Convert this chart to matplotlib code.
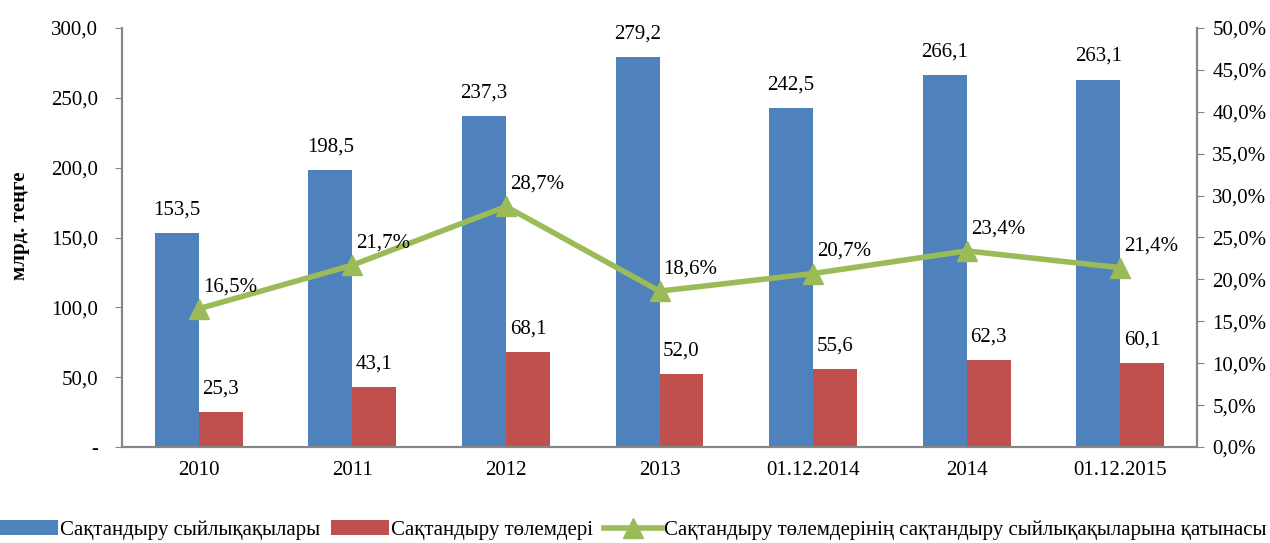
import matplotlib.pyplot as plt
import numpy as np
from matplotlib.ticker import FuncFormatter

plt.rcParams['font.family'] = ['Liberation Serif', 'DejaVu Serif']

categories = ["2010", "2011", "2012", "2013", "01.12.2014", "2014", "01.12.2015"]
premiums = [153.5, 198.5, 237.3, 279.2, 242.5, 266.1, 263.1]
payments = [25.3, 43.1, 68.1, 52.0, 55.6, 62.3, 60.1]
ratio = [16.5, 21.7, 28.7, 18.6, 20.7, 23.4, 21.4]

blue = "#4f81bd"
red = "#c0504d"
green = "#9bbb59"
grey = "#868686"

W, H = 1270, 543
fig = plt.figure(figsize=(W / 100, H / 100), dpi=100)
ax = fig.add_axes([122 / W, 96 / H, 1075 / W, 419 / H])
ax2 = ax.twinx()

x = np.arange(len(categories))
w = 0.286
ax.bar(x - w / 2, premiums, w, color=blue, label="Сақтандыру сыйлықақылары", zorder=2)
ax.bar(x + w / 2, payments, w, color=red, label="Сақтандыру төлемдері", zorder=2)

for xi, v in zip(x, premiums):
    ax.annotate(f"{v:.1f}".replace(".", ","), (xi - w / 2, v), xytext=(0, 23),
                textcoords="offset pixels", ha="center", va="center", fontsize=15)
for xi, v in zip(x, payments):
    ax.annotate(f"{v:.1f}".replace(".", ","), (xi + w / 2, v), xytext=(0, 23),
                textcoords="offset pixels", ha="center", va="center", fontsize=15)

ax2.plot(x, ratio, color=green, lw=4, marker="^", ms=14,
         label="Сақтандыру төлемдерінің сақтандыру сыйлықақыларына қатынасы", zorder=3)
for xi, v in zip(x, ratio):
    ax2.annotate(f"{v:.1f}%".replace(".", ","), (xi, v), xytext=(4, 22),
                 textcoords="offset pixels", ha="left", va="center", fontsize=15)

ax.set_xlim(-0.5, len(categories) - 0.5)
ax.set_ylim(0, 300)
ax.set_yticks(np.arange(0, 301, 50))
ax.yaxis.set_major_formatter(FuncFormatter(lambda v, p: "-" if v == 0 else f"{v:.1f}".replace(".", ",")))
ax2.set_ylim(0, 50)
ax2.set_yticks(np.arange(0, 51, 5))
ax2.yaxis.set_major_formatter(FuncFormatter(lambda v, p: f"{v:.1f}%".replace(".", ",")))

ax.set_xticks(x)
ax.set_xticklabels(categories)
ax.tick_params(axis="x", length=0, labelsize=15, pad=10)
ax.tick_params(axis="y", labelsize=15, color=grey, length=5, pad=12)
ax2.tick_params(axis="y", labelsize=15, color=grey, length=5, pad=6)

for a in (ax, ax2):
    a.spines["top"].set_visible(False)
    for s in ("left", "right", "bottom"):
        a.spines[s].set_color(grey)
        a.spines[s].set_linewidth(1.5)

fig.text(20 / W, 1 - 226 / H, "млрд. теңге", rotation=90, ha="center", va="center",
         fontsize=15, fontweight="bold")

h1, l1 = ax.get_legend_handles_labels()
h2, l2 = ax2.get_legend_handles_labels()
fig.legend(h1 + h2, l1 + l2, loc="center left", bbox_to_anchor=(0, 1 - 530 / H),
           ncol=3, frameon=False, fontsize=15, handlelength=2.8, handletextpad=0.1,
           columnspacing=0.5, borderaxespad=0, borderpad=0)

fig.savefig("out.png", dpi=100)
